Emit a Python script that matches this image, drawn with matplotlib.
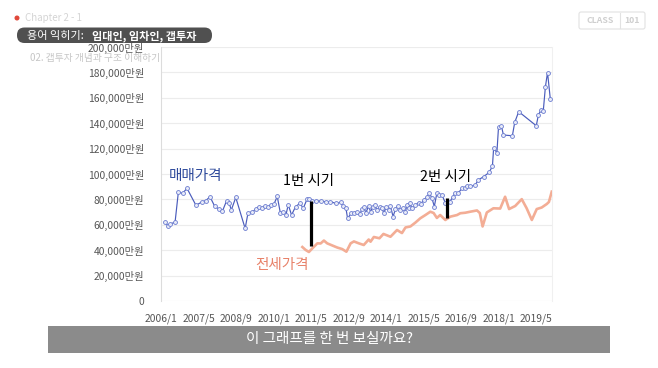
import matplotlib
matplotlib.use("Agg")
import matplotlib.pyplot as plt
from matplotlib.patches import FancyBboxPatch, Rectangle, Circle
from matplotlib.ticker import FuncFormatter

plt.rcParams["font.family"] = ["Noto Sans CJK KR", "DejaVu Sans"]

# 1. Chart data (months counted from 2006/1, prices in 만원)

sale_months = [
    1.8, 2.9, 3.8, 6.0, 7.4, 9.2, 11.1, 14.9, 17.7, 19.1,
    20.9, 22.9, 24.8, 26.2, 28.0, 29.1, 30.0, 31.9, 35.9, 37.1,
    39.0, 40.4, 41.8, 43.3, 44.3, 45.7, 46.8, 48.2, 49.6, 50.9,
    52.2, 53.3, 54.3, 55.7, 57.4, 59.3, 60.7, 62.3, 63.1, 64.4,
    66.0, 68.1, 70.2, 72.3, 74.5, 76.6, 77.7, 78.9, 79.6, 81.2,
    82.3, 83.7, 84.8, 85.8, 86.5, 87.4, 88.6, 89.4, 90.3, 91.1,
    92.2, 93.3, 94.3, 95.0, 96.2, 97.1, 97.9, 99.0, 100.0, 101.0,
    102.1, 103.2, 104.3, 104.9, 105.7, 106.2, 107.1, 108.5, 109.9, 110.9,
    112.0, 113.5, 114.5, 115.6, 116.6, 117.7, 118.8, 119.9, 121.3, 123.1,
    124.6, 125.5, 126.9, 128.4, 129.8, 130.6, 131.9, 134.0, 135.4, 137.6,
    140.0, 141.4, 141.9, 143.3, 144.0, 145.2, 146.1, 149.9, 150.9, 152.6,
    160.1, 161.0, 162.2, 163.1, 164.0, 164.9, 166.1,
]
sale_prices = [
    62000, 59300, 60600, 62000, 85700, 84800, 88700, 75400, 78200, 79000,
    82100, 74600, 72200, 70700, 79000, 76900, 71700, 81500, 57100, 69100,
    70300, 72200, 73800, 73000, 74800, 73800, 75600, 76400, 82300, 69500,
    70300, 67900, 75800, 67700, 74300, 76900, 73000, 80200, 80600, 78900,
    78700, 78700, 78200, 78200, 76900, 77600, 74800, 73000, 65100, 69100,
    69500, 70100, 68500, 72200, 73800, 69500, 74800, 70300, 73800, 75600,
    71700, 74300, 73000, 69500, 73800, 71700, 74800, 66400, 72200, 74800,
    71700, 73000, 70300, 75600, 73000, 76900, 73000, 75600, 77400, 76400,
    79500, 82100, 85100, 80900, 74400, 85000, 83500, 83500, 77200, 78000,
    82100, 85400, 85300, 88600, 88700, 90900, 90200, 91300, 95300, 97900,
    101200, 106300, 120200, 116900, 137200, 138000, 130700, 130100, 140600, 149100,
    138000, 146500, 150600, 150000, 168700, 179900, 158900,
]

jeonse_months = [
    60.3, 61.7, 63.1, 64.6, 66.7, 68.1, 69.5, 70.9, 73.1, 75.2,
    77.3, 79.1, 80.9, 82.3, 84.4, 86.5, 88.6, 89.4, 90.8, 93.2,
    94.9, 97.9, 100.7, 102.8, 104.3, 106.4, 108.5, 110.6, 112.8, 114.9,
    116.3, 117.7, 119.1, 121.3, 123.4, 126.3, 127.7, 129.8, 131.9, 134.8,
    136.0, 137.2, 139.0, 141.8, 144.7, 146.8, 148.5, 151.1, 153.9, 156.0,
    158.2, 160.3, 162.4, 164.6, 165.5, 166.7,
]
jeonse_prices = [
    42500, 40200, 38600, 41500, 45400, 45300, 47600, 45400, 43700, 42100,
    40900, 38800, 45400, 46900, 45400, 44100, 48400, 46700, 50400, 49400,
    52800, 50600, 55900, 53500, 57900, 58700, 61700, 65100, 67700, 70300,
    69300, 65400, 67700, 63800, 66400, 67700, 69100, 69500, 70300, 71300,
    69300, 58700, 69700, 73000, 72800, 82100, 72400, 74800, 80200, 73000,
    63800, 72400, 73600, 76400, 78000, 86100,
]

tick_months = [0, 16, 32, 48, 64, 80, 96, 112, 128, 144, 160]
tick_labels = ["2006/1", "2007/5", "2008/9", "2010/1", "2011/5", "2012/9",
               "2014/1", "2015/5", "2016/9", "2018/1", "2019/5"]
y_ticks = list(range(0, 200001, 20000))

# period markers: label, month, top and bottom price
period_names = ["1번 시기", "2번 시기"]
period_months = [63.8, 121.9]
period_tops = [78700, 80900]
period_bottoms = [43300, 65100]

# 2. Figure and main axes

W, H = 658, 368
fig = plt.figure(figsize=(W / 100, H / 100), dpi=100)
fig.patch.set_facecolor("white")

ax = fig.add_axes([161 / W, 1 - 301 / H, (552 - 161) / W, 254 / H])
ax.set_xlim((161 - 160) / 2.35, (552 - 160) / 2.35)
ax.set_ylim(0, 200000)

ax.plot(jeonse_months, jeonse_prices, color="#f3ad95", linewidth=1.9,
        solid_joinstyle="round", zorder=3)
ax.plot(sale_months, sale_prices, color="#4a5cbc", linewidth=0.85,
        marker="o", markersize=2.8, markerfacecolor="#e8ebf8",
        markeredgecolor="#6b7cd0", markeredgewidth=0.6, zorder=4)

for month, top, bottom in zip(period_months, period_tops, period_bottoms):
    ax.plot([month, month], [bottom, top], color="black", linewidth=2.3,
            solid_capstyle="butt", zorder=5)

ax.text(3.4, 98800, "매매가격", color="#2f4b9c", fontsize=10.5,
        ha="left", va="center")
ax.text(40.4, 28300, "전세가격", color="#e8826a", fontsize=10.5,
        ha="left", va="center")
ax.text(51.9, 94500, period_names[0], color="black", fontsize=10.4,
        ha="left", va="center")
ax.text(110.6, 98000, period_names[1], color="black", fontsize=10.4,
        ha="left", va="center")

ax.set_xticks(tick_months)
ax.set_xticklabels(tick_labels)
ax.set_yticks(y_ticks)
ax.yaxis.set_major_formatter(
    FuncFormatter(lambda v, p: "0" if v == 0 else f"{int(v):,}만원"))
ax.tick_params(axis="both", length=0, labelsize=7.4, colors="#555555")
ax.tick_params(axis="x", pad=9)
ax.tick_params(axis="y", pad=12)

ax.grid(axis="y", color="#ececec", linewidth=0.8)
ax.set_axisbelow(True)
for side in ["top", "bottom"]:
    ax.spines[side].set_visible(False)
ax.spines["left"].set_color("#dcdcdc")
ax.spines["right"].set_color("#f0f0f0")

# 3. Overlay in pixel coordinates (header, logo, subtitle banner)

ov = fig.add_axes([0, 0, 1, 1])
ov.set_xlim(0, W)
ov.set_ylim(H, 0)
ov.axis("off")
ov.patch.set_alpha(0)

ov.add_patch(Circle((17, 18), 1.8, color="#e0483a"))
ov.text(25, 18, "Chapter 2 - 1", color="#d4d4d4", fontsize=7,
        ha="left", va="center")

ov.add_patch(FancyBboxPatch((17, 27.5), 195, 15.5,
                            boxstyle="round,pad=0,rounding_size=7.5",
                            facecolor="#505050", edgecolor="none"))
ov.text(27, 35.5, "용어 익히기: ", color="white", fontsize=8,
        ha="left", va="center")
ov.text(92, 35.5, "임대인, 임차인, 갭투자", color="white", fontsize=8,
        fontweight="bold", ha="left", va="center")
ov.text(30, 58.5, "02. 갭투자 개념과 구조 이해하기", color="#c6c6c6",
        fontsize=7, ha="left", va="center")

ov.add_patch(FancyBboxPatch((579, 12), 66, 17,
                            boxstyle="round,pad=0,rounding_size=2",
                            facecolor="white", edgecolor="#e2e2e2",
                            linewidth=0.8))
ov.plot([620, 620], [13, 28], color="#e2e2e2", linewidth=0.8)
ov.text(600, 20.5, "CLASS", color="#cfcfcf", fontsize=6.3,
        fontweight="bold", ha="center", va="center")
ov.text(632, 20.5, "101", color="#cfcfcf", fontsize=6.3,
        fontweight="bold", ha="center", va="center")

ov.add_patch(Rectangle((48, 326), 562, 26.5, facecolor="#8b8b8b",
                       edgecolor="none"))
ov.text(329, 339, "이 그래프를 한 번 보실까요?", color="white",
        fontsize=10.5, ha="center", va="center")

fig.savefig("out.png", dpi=100)
